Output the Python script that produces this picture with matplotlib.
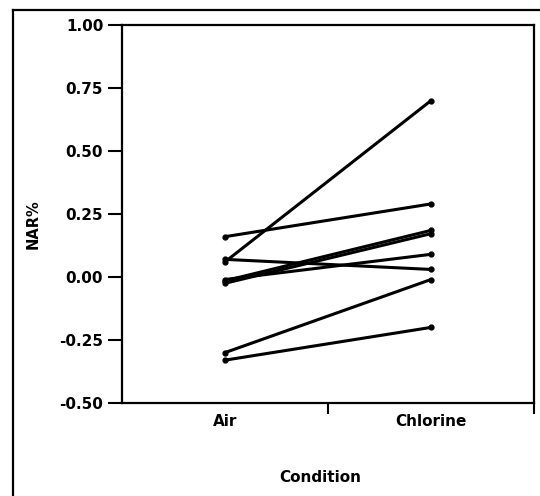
import numpy as np
import matplotlib
matplotlib.use("Agg")
import matplotlib.pyplot as plt
from matplotlib.lines import Line2D

# paired NAR% values per subject
conditions = ["Air", "Chlorine"]
air = [0.06, 0.16, 0.07, -0.015, -0.025, -0.01, -0.30, -0.33]
chlorine = [0.70, 0.29, 0.03, 0.185, 0.172, 0.09, -0.01, -0.20]
yticks = [-0.50, -0.25, 0.00, 0.25, 0.50, 0.75, 1.00]

plt.rcParams["font.family"] = "DejaVu Sans"
plt.rcParams["font.weight"] = "bold"

fig = plt.figure(figsize=(5.4, 4.96), dpi=100)
ax = fig.add_axes([122 / 540, 1 - 403 / 496, 412 / 540, 378 / 496])

xpos = [0.5, 1.5]
for a, c in zip(air, chlorine):
    ax.plot(xpos, [a, c], color="black", lw=2.2, marker="o", ms=3.5,
            solid_capstyle="round")

ax.set_xlim(0, 2)
ax.set_ylim(-0.5, 1.0)

ax.set_yticks(yticks)
ax.set_yticklabels(["%.2f" % v for v in yticks])
ax.tick_params(axis="y", direction="out", length=10, width=1.5, pad=3.5,
               labelsize=11)

ax.set_xticks([1, 2])
ax.set_xticklabels([])
ax.set_xticks(xpos, minor=True)
ax.set_xticklabels(conditions, minor=True)
ax.tick_params(axis="x", which="major", direction="out", length=8, width=1.5)
ax.tick_params(axis="x", which="minor", length=0, pad=8, labelsize=11)

for s in ax.spines.values():
    s.set_linewidth(1.6)

fig.text(320 / 540, 1 - 477 / 496, "Condition", ha="center", va="center",
         fontsize=11, fontweight="bold")
fig.text(33 / 540, 1 - 224 / 496, "NAR%", ha="center", va="center",
         rotation=90, fontsize=10.5, fontweight="bold")

# outer frame (left and top edges visible in the scan)
fig.add_artist(Line2D([13 / 540, 13 / 540], [0, 1 - 10 / 496],
                      transform=fig.transFigure, color="black", lw=1.6))
fig.add_artist(Line2D([13 / 540, 1], [1 - 10 / 496, 1 - 10 / 496],
                      transform=fig.transFigure, color="black", lw=1.6))

fig.savefig("out.png", dpi=100)
